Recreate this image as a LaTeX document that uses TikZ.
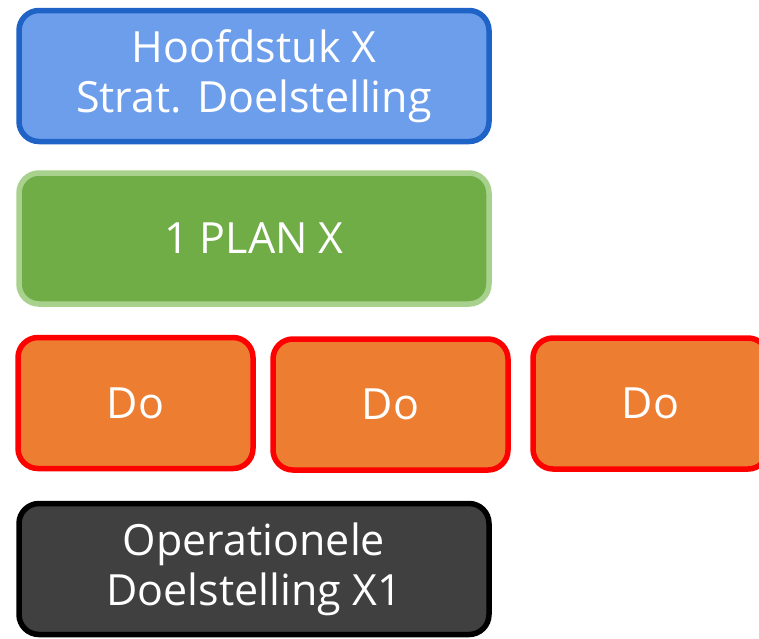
\documentclass[tikz,border=0pt]{standalone}
\usepackage{fontspec}
\setmainfont{Open Sans}
\definecolor{chapter}{RGB}{109, 158, 235}
\definecolor{chapterline}{RGB}{31, 99, 198}
\definecolor{plan}{RGB}{112, 173, 71}
\definecolor{planline}{RGB}{169, 209, 142}
\definecolor{action}{RGB}{237, 125, 49}
\definecolor{actionline}{RGB}{255, 0, 0}
\definecolor{goal}{RGB}{64, 64, 64}
\tikzset{
  box/.style={draw, line width=5.5pt, rounded corners=20pt, text=white, align=center,
    font=\fontsize{43}{50}\selectfont, inner sep=0pt},
  widebox/.style={box, minimum width=470pt, minimum height=131pt},
  dobox/.style={box, fill=action, draw=actionline, minimum width=235pt, minimum height=131pt}
}

\begin{document}
\begin{tikzpicture}[x=1pt, y=1pt]
          \useasboundingbox (0,0) rectangle (759,-638);

          % Strategic goal
          \node[widebox, fill=chapter, draw=chapterline] (chap) at (254,-76) {Hoofdstuk X\\Strat. Doelstelling};

          % Plan
          \node[widebox, fill=plan, draw=planline] (plan) at (254,-238.5) {1 PLAN X};

          % Actions
          \node[dobox] (do1) at (135.5,-403) {Do};
          \node[dobox] (do2) at (390.5,-404.5) {Do};
          \node[dobox] (do3) at (650.5,-403.5) {Do};

          % Operational goal
          \node[widebox, fill=goal, draw=black] (op) at (254,-569) {Operationele\\Doelstelling X1};
        \end{tikzpicture}
\end{document}
